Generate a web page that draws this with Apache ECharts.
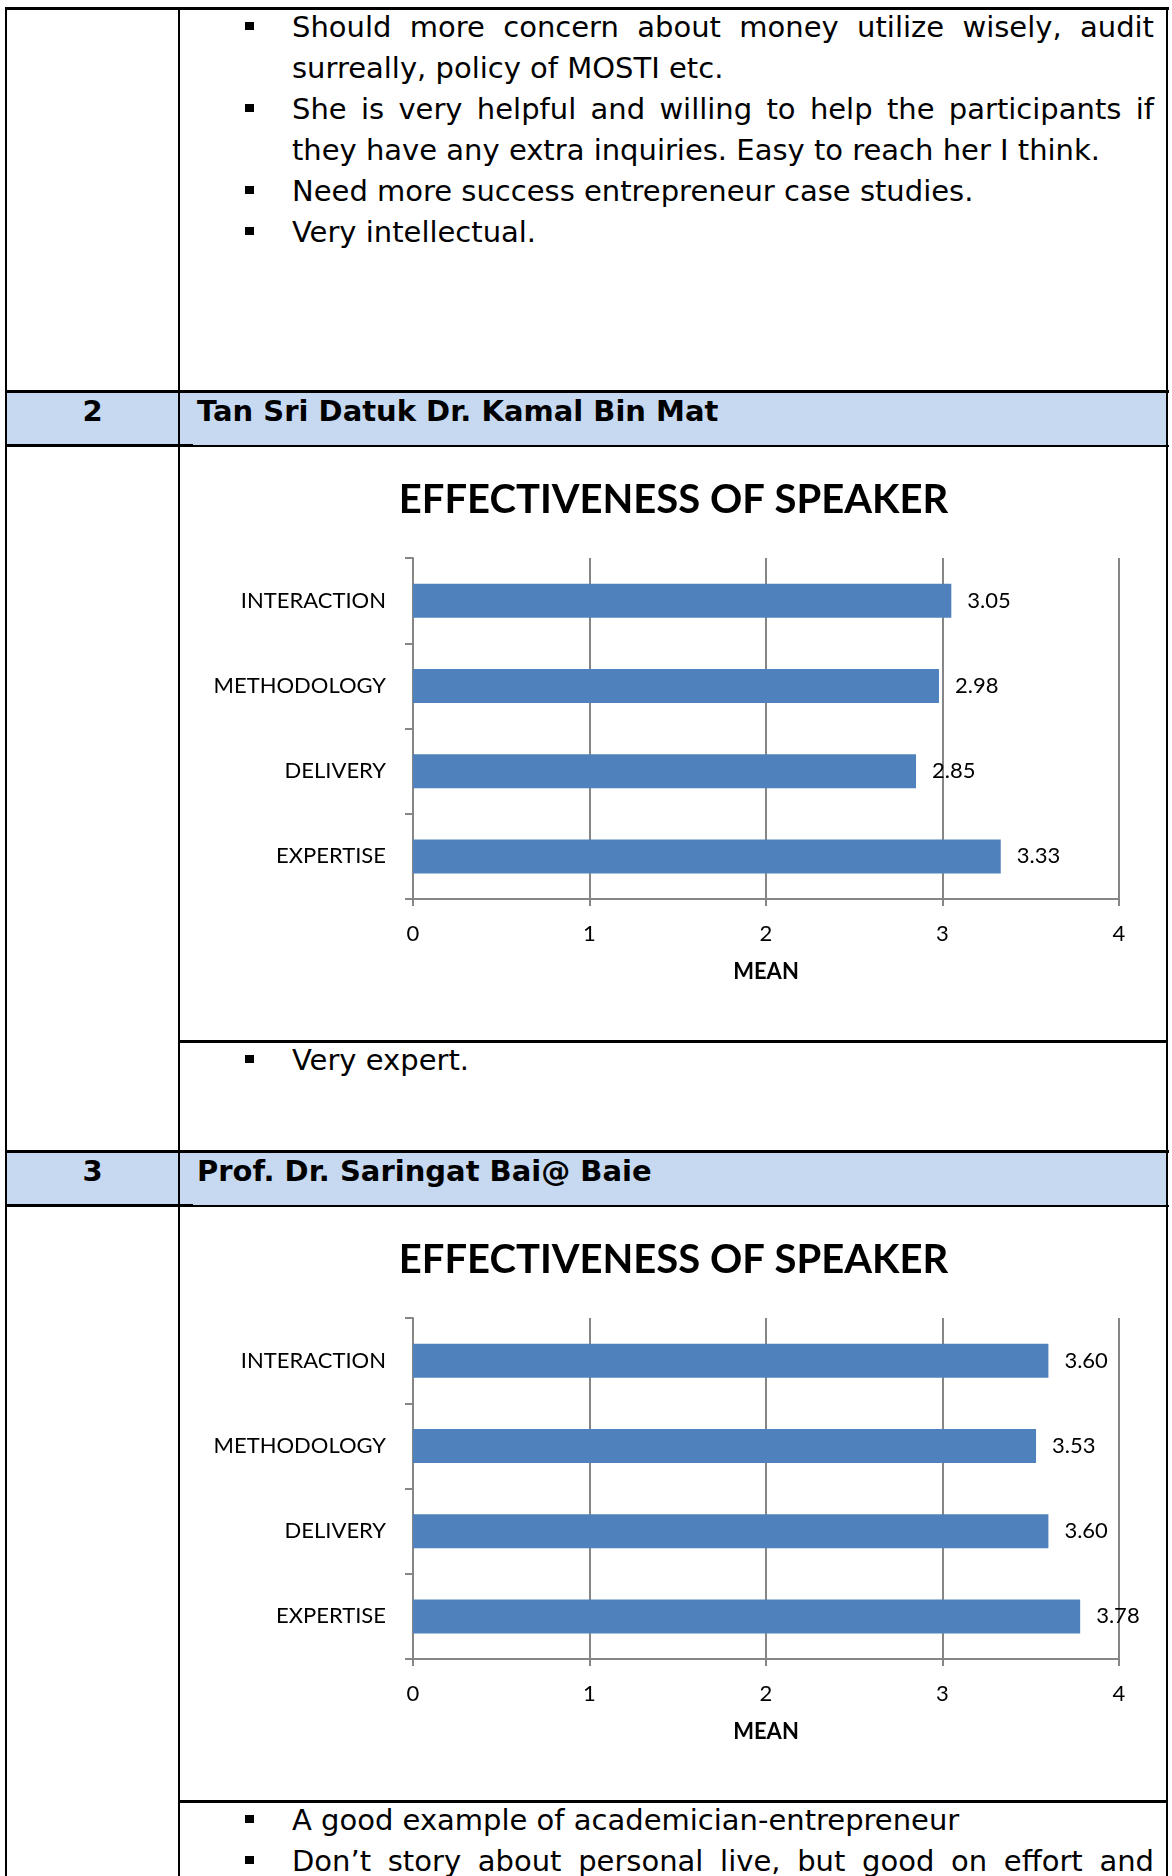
<!DOCTYPE html>
<html>
<head>
<meta charset="utf-8">
<title>Effectiveness of speaker</title>
<script src="https://cdn.jsdelivr.net/npm/echarts@6/dist/echarts.min.js"></script>
<style>
body { margin: 0; background: #fff; }
#page { position: relative; width: 1172px; height: 1876px; overflow: hidden; font-family: "DejaVu Sans", Verdana, sans-serif; color: #000; }
.ln { position: absolute; background: #000; }
.hd { position: absolute; left: 6px; width: 1161px; height: 55px; background: #c6d9f1; }
.txt { position: absolute; left: 292px; width: 862px; font-size: 29px; line-height: 41px; }
.txt div { position: relative; white-space: nowrap; }
.txt div.j { text-align: justify; text-align-last: justify; white-space: normal; }
.txt div.b::before { content: ""; position: absolute; left: -47px; top: 15px; width: 9px; height: 8px; background: #000; }
.hnum, .hname { position: absolute; font-weight: bold; font-size: 29px; line-height: 44px; }
.hnum { left: 6px; width: 173px; text-align: center; }
.hname { left: 197px; }
.chart { position: absolute; left: 180px; width: 987px; height: 592px; }
</style>
</head>
<body>
<div id="page">
  <!-- header fills -->
  <div class="hd" style="top:391px"></div>
  <div class="hd" style="top:1151px"></div>

  <!-- table lines -->
  <div class="ln" style="left:5px;top:7px;width:1164px;height:3px"></div>
  <div class="ln" style="left:5px;top:7px;width:2px;height:1869px"></div>
  <div class="ln" style="left:178px;top:7px;width:2px;height:1869px"></div>
  <div class="ln" style="left:1166px;top:7px;width:2px;height:1869px"></div>
  <div class="ln" style="left:5px;top:390px;width:1164px;height:3px"></div>
  <div class="ln" style="left:5px;top:444px;width:188px;height:3px"></div>
  <div class="ln" style="left:193px;top:445px;width:976px;height:2px"></div>
  <div class="ln" style="left:179px;top:1040px;width:989px;height:3px"></div>
  <div class="ln" style="left:5px;top:1150px;width:1164px;height:3px"></div>
  <div class="ln" style="left:5px;top:1204px;width:188px;height:3px"></div>
  <div class="ln" style="left:193px;top:1205px;width:976px;height:2px"></div>
  <div class="ln" style="left:179px;top:1800px;width:989px;height:3px"></div>

  <!-- comments, speaker 1 -->
  <div class="txt" style="top:7px">
    <div class="b j">Should more concern about money utilize wisely, audit</div>
    <div>surreally, policy of MOSTI etc.</div>
    <div class="b j">She is very helpful and willing to help the participants if</div>
    <div>they have any extra inquiries. Easy to reach her I think.</div>
    <div class="b">Need more success entrepreneur case studies.</div>
    <div class="b">Very intellectual.</div>
  </div>

  <!-- speaker 2 -->
  <div class="hnum" style="top:389px">2</div>
  <div class="hname" style="top:389px">Tan Sri Datuk Dr. Kamal Bin Mat</div>
  <div id="chart1" class="chart" style="top:448px"></div>
  <div class="txt" style="top:1040px">
    <div class="b">Very expert.</div>
  </div>

  <!-- speaker 3 -->
  <div class="hnum" style="top:1149px">3</div>
  <div class="hname" style="top:1149px">Prof. Dr. Saringat Bai@ Baie</div>
  <div id="chart2" class="chart" style="top:1208px"></div>
  <div class="txt" style="top:1800px">
    <div class="b">A good example of academician-entrepreneur</div>
    <div class="b j">Don’t story about personal live, but good on effort and</div>
  </div>
</div>

<script>
// chart data (categories bottom to top, like the Excel chart)
var categories = ['EXPERTISE', 'DELIVERY', 'METHODOLOGY', 'INTERACTION'];
var kamalMean = [3.33, 2.85, 2.98, 3.05];
var saringatMean = [3.78, 3.60, 3.53, 3.60];
var meanMin = 0;
var meanMax = 4;
var meanStep = 1;
var chartTitle = 'EFFECTIVENESS OF SPEAKER';
var axisName = 'MEAN';

var gray = '#868686';
var barBlue = '#4f81bd';

function speakerOption(values) {
	return {
		animation: false,
		title: {
			text: chartTitle,
			left: 'center',
			top: 28,
			padding: 0,
			textStyle: {
				fontFamily: 'Lato',
				fontWeight: 'bold',
				fontSize: 40,
				lineHeight: 48,
				color: '#000'
			}
		},
		grid: {
			left: 233,
			top: 110,
			width: 706,
			height: 341
		},
		xAxis: {
			type: 'value',
			min: meanMin,
			max: meanMax,
			interval: meanStep,
			name: axisName,
			nameLocation: 'middle',
			nameGap: 62,
			nameTextStyle: {
				fontFamily: 'Lato',
				fontWeight: 'bold',
				fontSize: 22,
				color: '#000'
			},
			axisLine: { show: true, lineStyle: { color: gray, width: 2 } },
			axisTick: { show: true, length: 7, lineStyle: { color: gray, width: 2 } },
			axisLabel: {
				margin: 24,
				fontFamily: 'Lato',
				fontSize: 22,
				color: '#000'
			},
			splitLine: { show: true, lineStyle: { color: gray, width: 2 } }
		},
		yAxis: {
			type: 'category',
			data: categories,
			axisLine: { show: true, lineStyle: { color: gray, width: 2 } },
			axisTick: { show: true, length: 8, lineStyle: { color: gray, width: 2 } },
			axisLabel: {
				margin: 27,
				fontFamily: 'Lato',
				fontSize: 22,
				color: '#000'
			},
			splitLine: { show: false }
		},
		series: [
			{
				name: axisName,
				type: 'bar',
				data: values,
				barWidth: 34,
				itemStyle: { color: barBlue },
				label: {
					show: true,
					position: 'right',
					distance: 16,
					fontFamily: 'Lato',
					fontSize: 22,
					color: '#000',
					formatter: function (p) { return p.value.toFixed(2); }
				}
			}
		]
	};
}

// Tan Sri Datuk Dr. Kamal Bin Mat
var myChart1 = echarts.init(document.getElementById('chart1'));
var option1 = speakerOption(kamalMean);
myChart1.setOption(option1);

// Prof. Dr. Saringat Bai@ Baie
var myChart2 = echarts.init(document.getElementById('chart2'));
var option2 = speakerOption(saringatMean);
myChart2.setOption(option2);
</script>
</body>
</html>
